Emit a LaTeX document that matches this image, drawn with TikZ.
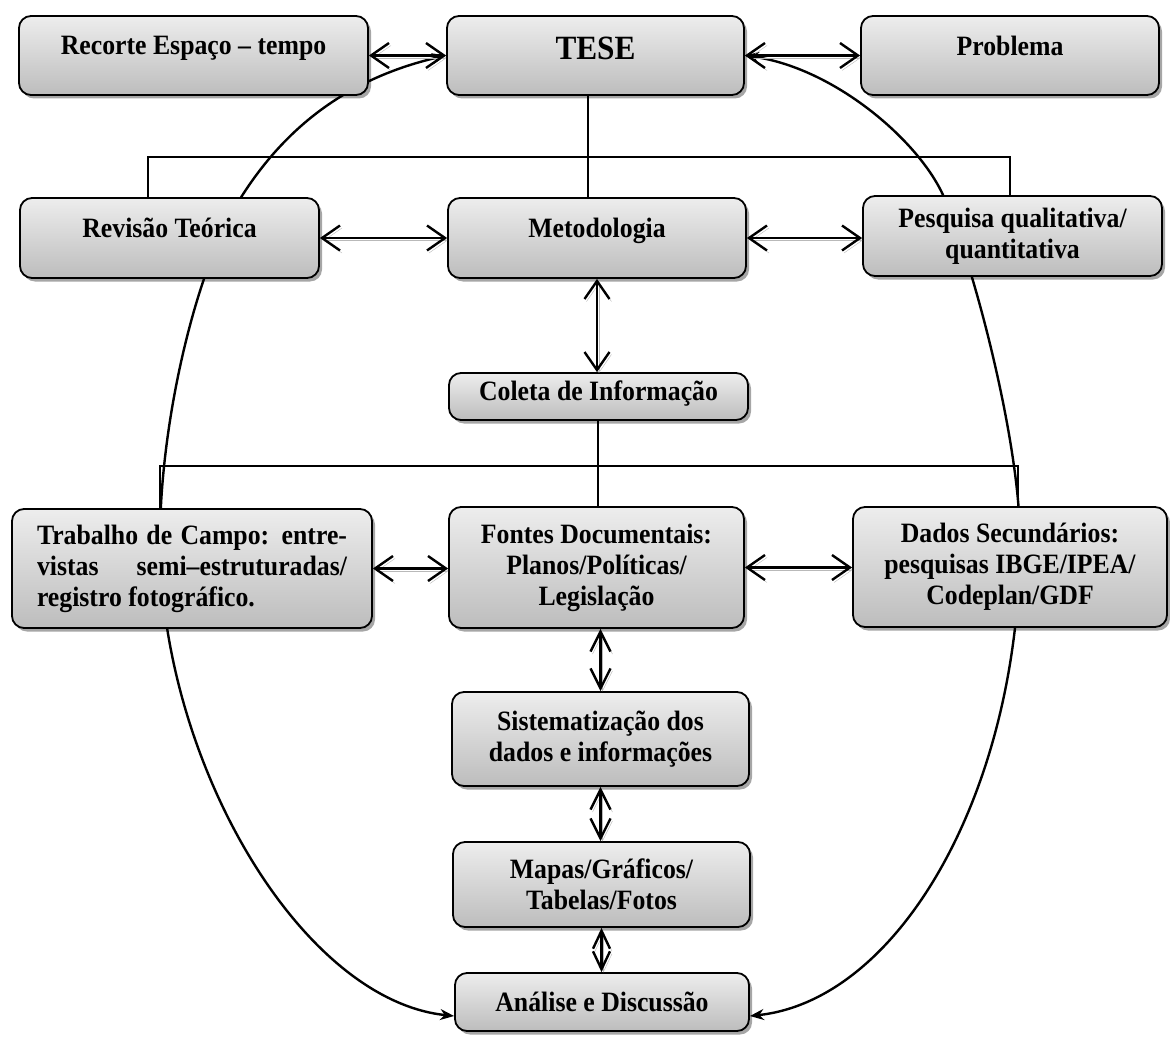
\documentclass[tikz,border=0pt]{standalone}
\usepackage{fontspec}
\setmainfont{Liberation Serif}[FakeStretch=0.92]
\usetikzlibrary{arrows.meta,shadows,backgrounds}

\tikzset{
  box/.style={draw, line width=1.8pt, rounded corners=12pt,
    top color=gray!14, bottom color=gray!52,
    drop shadow={shadow xshift=3pt, shadow yshift=-3.5pt, fill=black, opacity=.35},
    align=center, inner sep=0pt, font=\bfseries\fontsize{28}{31}\selectfont},
  raised/.style={text depth=20pt},
  biarrow/.style={line width=2.4pt,
    {Straight Barb[length=18pt,width=25pt]}-{Straight Barb[length=18pt,width=25pt]},
    preaction={draw=gray!55, transform canvas={xshift=2pt,yshift=-2.5pt}}},
  vbiarrow/.style={biarrow,
    {Straight Barb[length=20pt,width=20pt]}-{Straight Barb[length=20pt,width=20pt]}},
  link/.style={line width=1.6pt},
  bigcurve/.style={line width=2.4pt,
    {Stealth[length=14pt,width=11pt]}-{Stealth[length=14pt,width=11pt]}}
}

\begin{document}
\begin{tikzpicture}[x=1pt,y=-1pt]
  \useasboundingbox (0,0) rectangle (1170,1038);

  % boxes
  \node[box, raised, minimum width=349pt, minimum height=79pt] (rec) at (193.5,55.5) {Recorte Espaço – tempo};
  \node[box, minimum width=297pt, minimum height=79pt, text depth=14pt, font=\bfseries\fontsize{34}{38}\selectfont] (tese) at (595.5,55.5) {TESE};
  \node[box, raised, minimum width=298pt, minimum height=79pt] (prob) at (1010,55.5) {Problema};
  \node[box, raised, minimum width=299pt, minimum height=80pt] (rev) at (169.5,238) {Revisão Teórica};
  \node[box, raised, minimum width=298pt, minimum height=80pt] (met) at (597,238) {Metodologia};
  \node[box, minimum width=299pt, minimum height=80pt] (pesq) at (1012.5,236) {Pesquisa qualitativa/\\quantitativa};
  \node[box, minimum width=299pt, minimum height=47pt, text depth=12pt] (col) at (598.5,396.5) {Coleta de Informação};
  \node[box, minimum width=360pt, minimum height=119pt, text width=310pt, align=justify] (trab) at (192,568.5)
    {Trabalho de Campo: entre-\linebreak vistas semi–estruturadas/\linebreak registro fotográfico.};
  \node[box, minimum width=295pt, minimum height=121pt] (font) at (596.5,567.5) {Fontes Documentais:\\Planos/Políticas/\\Legislação};
  \node[box, minimum width=314pt, minimum height=120pt] (dados) at (1010,567) {Dados Secundários:\\pesquisas IBGE/IPEA/\\Codeplan/GDF};
  \node[box, minimum width=297pt, minimum height=94pt] (sist) at (600.5,739) {Sistematização dos\\dados e informações};
  \node[box, minimum width=297pt, minimum height=85pt] (mapas) at (601.5,884.5) {Mapas/Gráficos/\\Tabelas/Fotos};
  \node[box, minimum width=294pt, minimum height=58pt] (ana) at (602,1002) {Análise e Discussão};

  % the two long curves, behind the boxes
  \begin{scope}[on background layer]
    \draw[bigcurve] (tese.west) .. controls (340,80) and (280,135) .. (240,199)
      .. controls (197,266) and (160,420) .. (160,540)
      .. controls (160,760) and (300,1000) .. ([yshift=-14pt]ana.west);
    \draw[bigcurve] (tese.east) .. controls (834,68) and (918,140) .. (943,195)
      .. controls (972,259) and (1020,440) .. (1020,540)
      .. controls (1020,790) and (900,1000) .. ([yshift=-14pt]ana.east);
  \end{scope}

  % brackets
  \coordinate (topbar) at (588,157);
  \coordinate (lowbar) at (598,466);
  \draw[link] (tese.south -| topbar) -- (met.north -| topbar);
  \draw[link] (rev.north -| 148,0) |- (topbar) -| (pesq.north -| 1010,0);
  \draw[link] (col.south -| lowbar) -- (font.north -| lowbar);
  \draw[link] (trab.north -| 160,0) |- (lowbar) -| (dados.north -| 1018,0);

  % double arrows
  \draw[biarrow] (rec.east) -- (tese.west);
  \draw[biarrow] (tese.east) -- (prob.west);
  \draw[biarrow] (rev.east) -- (met.west);
  \draw[biarrow] (met.east) -- (met.east -| pesq.west);
  \draw[biarrow] (met.south) -- (met.south |- col.north);
  \draw[biarrow] (trab.east) -- (trab.east -| font.west);
  \draw[biarrow] (font.east) -- (font.east -| dados.west);
  \draw[vbiarrow] (sist.north |- font.south) -- (sist.north);
  \draw[vbiarrow] (sist.south) -- (sist.south |- mapas.north);
  \draw[vbiarrow, {Straight Barb[length=18pt,width=17pt]}-{Straight Barb[length=18pt,width=17pt]}] (mapas.south) -- (mapas.south |- ana.north);
\end{tikzpicture}
\end{document}
